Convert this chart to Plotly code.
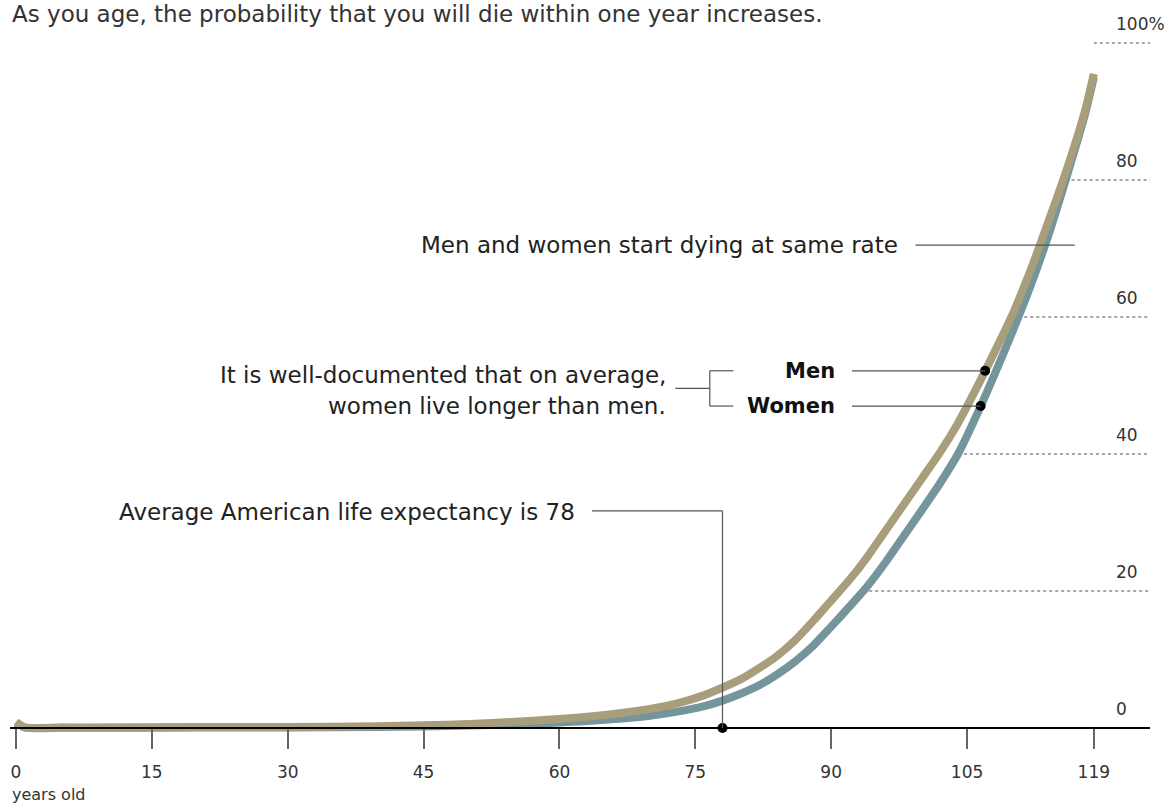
import numpy as np
import plotly.graph_objects as go

# ---------------- data ----------------
ages = [0, 1, 5, 10, 20, 30, 40, 45, 50, 55, 60, 65, 70, 73, 76, 78, 80, 82, 84, 86, 88,
        90, 92, 94, 96, 98, 100, 102, 104, 106, 108, 110, 112, 114, 116, 118, 119]
men = [0.9, 0.1, 0.06, 0.06, 0.15, 0.16, 0.25, 0.4, 0.6, 0.9, 1.3, 1.9, 2.8, 3.6, 4.8, 5.9,
       7.1, 8.7, 10.5, 12.8, 15.6, 18.6, 21.6, 25.0, 28.8, 32.6, 36.4, 40.2, 44.5, 49.5,
       54.8, 60.3, 66.8, 74.0, 81.5, 90.0, 95.5]
women = [0.7, 0.05, 0.04, 0.04, 0.06, 0.07, 0.15, 0.22, 0.35, 0.55, 0.8, 1.2, 1.8, 2.4,
         3.2, 4.0, 5.0, 6.2, 7.8, 9.7, 12.0, 14.8, 17.7, 20.7, 24.2, 28.0, 31.8, 35.7, 40.0,
         45.5, 51.5, 57.8, 64.5, 72.0, 80.5, 89.5, 95.0]
x_ticks = [0, 15, 30, 45, 60, 75, 90, 105, 119]
x_ticktext = ["0", "15", "30", "45", "60", "75", "90", "105", "119"]
y_levels = [0, 20, 40, 60, 80, 100]
y_labels = ["0", "20", "40", "60", "80", "100%"]
life_expectancy = 78
men_dot_age = 107
women_dot_age = 106.5
same_rate_level = 70.5

TAN = "#a99e7b"
BLUE = "#74959b"
TXT = "#222222"
LINE = "#555555"
FONT = "DejaVu Sans"

fig = go.Figure()

# gridlines (dotted, from curve to right edge)
w_arr = np.array(women[1:])
a_arr = np.array(ages[1:])
for lv in y_levels[1:]:
    start = float(np.interp(lv, w_arr, a_arr))
    fig.add_shape(type="line", x0=start, x1=125.2, y0=lv, y1=lv, layer="below",
                  line=dict(color="#8a8a8a", width=1.5, dash="dot"))

fig.add_trace(go.Scatter(x=ages, y=women, mode="lines", name="Women",
                         line=dict(color=BLUE, width=8, shape="spline", smoothing=0.7),
                         hoverinfo="x+y"))
fig.add_trace(go.Scatter(x=ages, y=men, mode="lines", name="Men",
                         line=dict(color=TAN, width=8, shape="spline", smoothing=0.7),
                         hoverinfo="x+y"))

men_y = float(np.interp(men_dot_age, ages, men))
women_y = float(np.interp(women_dot_age, ages, women))

# connector lines
def seg(x0, y0, x1, y1, w=1.2):
    fig.add_shape(type="line", x0=x0, y0=y0, x1=x1, y1=y1, line=dict(color=LINE, width=w))

seg(99.3, same_rate_level, 116.9, same_rate_level)
seg(92.3, men_y, men_dot_age, men_y)
seg(92.3, women_y, women_dot_age, women_y)
mid = (men_y + women_y) / 2
seg(72.8, mid, 76.6, mid)
seg(76.6, women_y, 76.6, men_y)
seg(76.6, men_y, 79.2, men_y)
seg(76.6, women_y, 79.2, women_y)
seg(63.6, 31.7, life_expectancy, 31.7)
seg(life_expectancy, 31.7, life_expectancy, 0)

fig.add_trace(go.Scatter(x=[men_dot_age, women_dot_age, life_expectancy], y=[men_y, women_y, 0],
                         mode="markers", marker=dict(color="black", size=10),
                         cliponaxis=False, hoverinfo="skip"))

ann = []
def txt(x, y, t, anchor="right", size=23, bold=False, color=TXT, **kw):
    ann.append(dict(x=x, y=y, text=f"<b>{t}</b>" if bold else t, showarrow=False,
                    xanchor=anchor, yanchor="middle",
                    font=dict(family=FONT, size=size, color=color), **kw))

txt(97.6, same_rate_level, "Men and women start dying at same rate")
txt(90.6, men_y, "Men", bold=True, size=21, color="#111")
txt(90.6, women_y, "Women", bold=True, size=21, color="#111")
txt(72.0, men_y - 0.6, "It is well-documented that on average,")
txt(72.0, women_y, "women live longer than men.")
txt(61.9, 31.6, "Average American life expectancy is 78")

for lv, lb in zip(y_levels, y_labels):
    ann.append(dict(x=121.2, y=lv, text=lb, showarrow=False, xanchor="left", yanchor="bottom",
                    yshift=7, font=dict(family=FONT, size=17, color="#333")))

ann.append(dict(x=0, y=1 - 14 / 805, xref="paper", yref="paper",
                text="As you age, the probability that you will die within one year increases.",
                showarrow=False, xanchor="left", yanchor="middle",
                font=dict(family=FONT, size=23, color="#333")))
ann.append(dict(x=0, y=11 / 805, xref="paper", yref="paper", text="years old",
                showarrow=False, xanchor="left", yanchor="middle",
                font=dict(family=FONT, size=16, color="#333")))

fig.update_layout(
    width=1176, height=805,
    margin=dict(l=10, r=26, t=0, b=0),
    paper_bgcolor="white", plot_bgcolor="white",
    showlegend=False,
    annotations=ann,
    xaxis=dict(range=[-0.662, 125.2], anchor="free", position=77 / 805,
               showgrid=False, zeroline=False, showline=True, linecolor="black", linewidth=1.5,
               ticks="outside", ticklen=20, tickwidth=1.5, tickcolor="#666",
               tickvals=x_ticks, ticktext=x_ticktext, ticklabelstandoff=9,
               tickfont=dict(family=FONT, size=17, color="#333")),
    yaxis=dict(range=[-11.24, 106.28], visible=False, showgrid=False, zeroline=False),
)

fig.write_html("out.html", post_script="document.body.style.margin='0';",
               config={"displayModeBar": False})
